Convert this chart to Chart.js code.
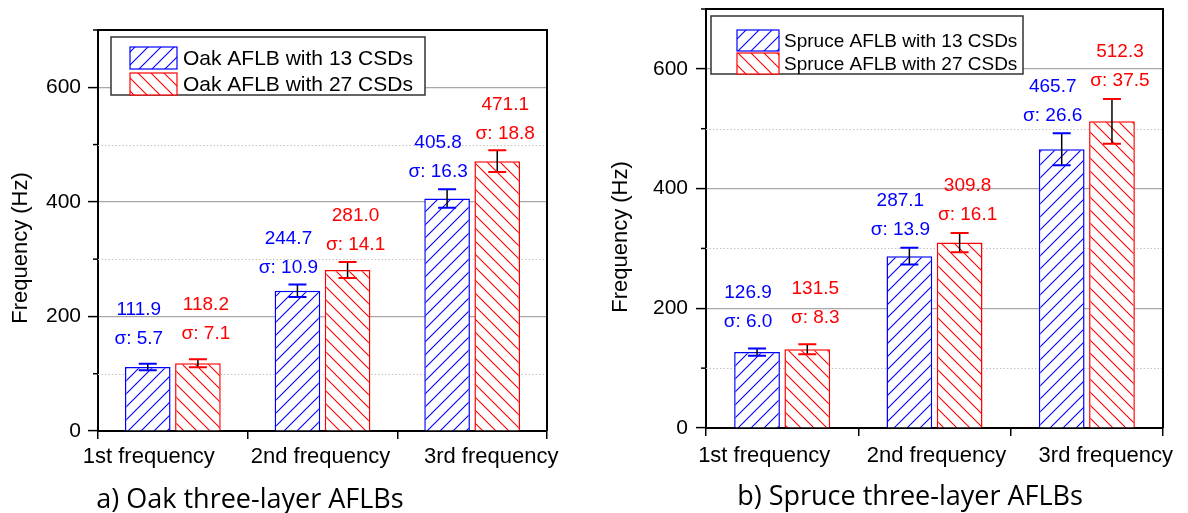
<!DOCTYPE html>
<html>
<head>
<meta charset="utf-8">
<script src="https://cdn.jsdelivr.net/npm/chart.js@4.4.1/dist/chart.umd.min.js"></script>
<style>
  html, body { margin: 0; padding: 0; background: #fff; }
  body { width: 1188px; height: 513px; position: relative; overflow: hidden; }
  .panel { position: absolute; top: 0; width: 594px; height: 513px; }
  #panelA { left: 0; }
  #panelB { left: 594px; }
  .caption {
    position: absolute; transform: translate(-50%, -50%);
    font-family: 'Open Sans', 'Noto Sans', sans-serif; font-size: 27px; line-height: 1;
    color: #000; white-space: nowrap;
  }
</style>
</head>
<body>
<div class="panel" id="panelA"><canvas id="oakChart"></canvas></div>
<div class="panel" id="panelB"><canvas id="spruceChart"></canvas></div>
<div class="caption" style="left:250px; top:497px;">a) Oak three-layer AFLBs</div>
<div class="caption" style="left:910px; top:494px;">b) Spruce three-layer AFLBs</div>

<script>
// data
const categories = ['1st frequency', '2nd frequency', '3rd frequency'];

const oakNames = ['Oak AFLB with 13 CSDs', 'Oak AFLB with 27 CSDs'];
const oak13 = [111.9, 244.7, 405.8];
const oak13Sd = [5.7, 10.9, 16.3];
const oak27 = [118.2, 281.0, 471.1];
const oak27Sd = [7.1, 14.1, 18.8];

const spruceNames = ['Spruce AFLB with 13 CSDs', 'Spruce AFLB with 27 CSDs'];
const spruce13 = [126.9, 287.1, 465.7];
const spruce13Sd = [6.0, 13.9, 26.6];
const spruce27 = [131.5, 309.8, 512.3];
const spruce27Sd = [8.3, 16.1, 37.5];

const yLabelTicks = [0, 200, 400, 600];
const yMinorTicks = [100, 300, 500, 700];
const yTitle = 'Frequency (Hz)';

const FONT = "'Liberation Sans', Arial, sans-serif";
const BLUE = '#0000ff';
const RED = '#ff0000';

// hatch fill: dir 1 = "/", dir -1 = "\"
function hatch(ctx, color, dir) {
  const s = 13;
  const c = document.createElement('canvas');
  c.width = s; c.height = s;
  const g = c.getContext('2d');
  g.fillStyle = '#fff';
  g.fillRect(0, 0, s, s);
  g.strokeStyle = color;
  g.lineWidth = 1.1;
  g.beginPath();
  if (dir > 0) {
    g.moveTo(-1, s + 1); g.lineTo(s + 1, -1);
    g.moveTo(-1, 1); g.lineTo(1, -1);
    g.moveTo(s - 1, s + 1); g.lineTo(s + 1, s - 1);
  } else {
    g.moveTo(-1, -1); g.lineTo(s + 1, s + 1);
    g.moveTo(s - 1, -1); g.lineTo(s + 1, 1);
    g.moveTo(-1, s - 1); g.lineTo(1, s + 1);
  }
  g.stroke();
  return ctx.createPattern(c, 'repeat');
}

function extrasPlugin(look) {
  return {
    id: 'extras',
    beforeDraw(chart) {
      // nudge category labels the way the original sits
      const items = chart.scales.x.getLabelItems();
      items.forEach((it, i) => { it.options.translation[0] += look.xShift[i]; });
    },
    beforeDatasetsDraw(chart) {
      const ctx = chart.ctx, a = chart.chartArea, y = chart.scales.y;
      ctx.save();
      ctx.strokeStyle = '#c4c4c4';
      ctx.lineWidth = 1;
      ctx.setLineDash([1.5, 2]);
      yMinorTicks.forEach(v => {
        if (v >= 700) return;
        const py = Math.round(y.getPixelForValue(v)) + 0.5;
        ctx.beginPath(); ctx.moveTo(a.left, py); ctx.lineTo(a.right, py); ctx.stroke();
      });
      ctx.setLineDash([]);
      ctx.strokeStyle = '#000';
      ctx.lineWidth = 1.5;
      yMinorTicks.forEach(v => {
        const py = y.getPixelForValue(v);
        ctx.beginPath(); ctx.moveTo(a.left - 5, py); ctx.lineTo(a.left, py); ctx.stroke();
      });
      ctx.restore();
    },
    afterDatasetsDraw(chart) {
      const ctx = chart.ctx, a = chart.chartArea, y = chart.scales.y;
      ctx.save();
      chart.data.datasets.forEach((ds, i) => {
        const meta = chart.getDatasetMeta(i);
        meta.data.forEach((bar, j) => {
          const v = ds.data[j], sd = ds.sd[j];
          const hi = y.getPixelForValue(v + sd), lo = y.getPixelForValue(v - sd);
          const x = bar.x;
          ctx.strokeStyle = '#000';
          ctx.lineWidth = 1.5;
          ctx.beginPath(); ctx.moveTo(x, hi); ctx.lineTo(x, lo); ctx.stroke();
          ctx.strokeStyle = ds.borderColor;
          ctx.lineWidth = 2;
          ctx.beginPath();
          ctx.moveTo(x - 9, hi); ctx.lineTo(x + 9, hi);
          ctx.moveTo(x - 9, lo); ctx.lineTo(x + 9, lo);
          ctx.stroke();

          ctx.fillStyle = ds.borderColor;
          ctx.font = '19px ' + FONT;
          ctx.textAlign = 'center';
          ctx.textBaseline = 'middle';
          const lx = x + look.labelShift[i];
          const sy = hi - look.sdGap - look.groupLift[j];
          ctx.fillText('σ: ' + sd.toFixed(1), lx, sy);
          ctx.fillText(v.toFixed(1), lx, sy - look.lineGap);
        });
      });

      // top and right frame
      ctx.strokeStyle = '#000';
      ctx.lineWidth = 2;
      ctx.beginPath();
      ctx.moveTo(a.left, a.top); ctx.lineTo(a.right, a.top); ctx.lineTo(a.right, a.bottom);
      ctx.stroke();

      // legend box
      const L = look.legend;
      const bx = a.left + L.dx, by = a.top + L.dy;
      ctx.fillStyle = '#fff';
      ctx.fillRect(bx, by, L.w, L.h);
      ctx.strokeStyle = '#333';
      ctx.lineWidth = 1.5;
      ctx.strokeRect(bx, by, L.w, L.h);
      chart.data.datasets.forEach((ds, i) => {
        const sx = a.left + L.sx, sy = a.top + L.sy + i * L.rowH;
        ctx.fillStyle = ds.backgroundColor;
        ctx.fillRect(sx, sy, L.sw, L.sh);
        ctx.strokeStyle = ds.borderColor;
        ctx.lineWidth = 1.2;
        ctx.strokeRect(sx, sy, L.sw, L.sh);
        ctx.fillStyle = '#000';
        ctx.font = L.font + 'px ' + FONT;
        ctx.textAlign = 'left';
        ctx.textBaseline = 'middle';
        ctx.fillText(ds.label, sx + L.sw + L.gap, sy + L.sh / 2 + 1);
      });

      // y axis title
      ctx.translate(look.titleX, look.titleY);
      ctx.rotate(-Math.PI / 2);
      ctx.fillStyle = '#000';
      ctx.font = '22px ' + FONT;
      ctx.textAlign = 'center';
      ctx.textBaseline = 'middle';
      ctx.fillText(yTitle, 0, 0);
      ctx.restore();
    }
  };
}

function makeChart(id, names, d13, sd13, d27, sd27, look) {
  const ctx = document.getElementById(id).getContext('2d');
  return new Chart(ctx, {
    type: 'bar',
    data: {
      labels: categories,
      datasets: [
        { label: names[0], data: d13, sd: sd13, backgroundColor: hatch(ctx, BLUE, 1),
          borderColor: BLUE, borderWidth: 1.5, categoryPercentage: look.catPct, barPercentage: 0.91 },
        { label: names[1], data: d27, sd: sd27, backgroundColor: hatch(ctx, RED, -1),
          borderColor: RED, borderWidth: 1.5, categoryPercentage: look.catPct, barPercentage: 0.91 }
      ]
    },
    options: {
      responsive: true,
      maintainAspectRatio: false,
      animation: false,
      events: [],
      layout: { padding: { top: look.top, right: look.right, left: 0, bottom: 0 } },
      plugins: { legend: { display: false }, tooltip: { enabled: false } },
      scales: {
        x: {
          afterFit: s => { s.height = look.xHeight; s.paddingLeft = 0; s.paddingRight = 0; },
          grid: { display: true, drawOnChartArea: false, offset: true, color: '#000', lineWidth: 1.5, tickLength: 8 },
          border: { display: true, color: '#000', width: 2 },
          ticks: { color: '#000', font: { family: FONT, size: 22 }, padding: look.xPad, maxRotation: 0, autoSkip: false }
        },
        y: {
          min: 0,
          max: 700,
          afterFit: s => { s.width = look.yWidth; s.paddingTop = 0; s.paddingBottom = 0; },
          ticks: {
            stepSize: 100, color: '#000', font: { family: FONT, size: 21 }, padding: look.yPad,
            callback: v => yLabelTicks.includes(v) ? v : ''
          },
          grid: {
            color: c => (c.tick && c.tick.value > 0 && yLabelTicks.includes(c.tick.value)) ? '#a8a8a8' : 'rgba(0,0,0,0)',
            lineWidth: 1.2,
            tickColor: c => (c.tick && yLabelTicks.includes(c.tick.value)) ? '#000' : 'rgba(0,0,0,0)',
            tickLength: 10,
            tickWidth: 1.5
          },
          border: { display: true, color: '#000', width: 2 }
        }
      }
    },
    plugins: [extrasPlugin(look)]
  });
}

makeChart('oakChart', oakNames, oak13, oak13Sd, oak27, oak27Sd, {
  top: 30, right: 47, yWidth: 98, xHeight: 82, yPad: 7, xPad: 5, catPct: 0.67,
  titleX: 21, titleY: 248,
  xShift: [-24, -2, 19], labelShift: [-9, 8], sdGap: 17, groupLift: [8, 0, 0], lineGap: 29,
  legend: { dx: 13, dy: 7, w: 314, h: 58, sx: 32, sy: 17, sw: 47, sh: 22, rowH: 26, gap: 6, font: 21 }
});

makeChart('spruceChart', spruceNames, spruce13, spruce13Sd, spruce27, spruce27Sd, {
  top: 9, right: 25, yWidth: 112, xHeight: 85, yPad: 8, xPad: 7, catPct: 0.66,
  titleX: 27, titleY: 237,
  xShift: [-18, 2, 19], labelShift: [-9, 8], sdGap: 18, groupLift: [9, 0, 0], lineGap: 29,
  legend: { dx: 5, dy: 7, w: 312, h: 58, sx: 31, sy: 21, sw: 42, sh: 21, rowH: 23, gap: 5, font: 19 }
});
</script>
</body>
</html>
